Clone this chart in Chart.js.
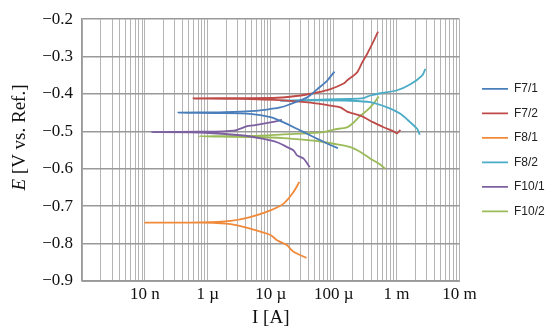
<!DOCTYPE html>
<html>
<head>
<meta charset="utf-8">
<script src="https://cdn.jsdelivr.net/npm/chart.js@4.4.1/dist/chart.umd.min.js"></script>
<style>
  html, body { margin: 0; padding: 0; background: #ffffff; }
  #wrap { width: 550px; height: 335px; }
</style>
</head>
<body>
<div id="wrap"><canvas id="c" width="550" height="335"></canvas></div>
<script>
// ---- data (current I in A, potential E in V vs. Ref.) ----
const seriesNames = ['F7/1', 'F7/2', 'F8/1', 'F8/2', 'F10/1', 'F10/2'];
const seriesColors = ['#4A7EBB', '#BE4B48', '#F08A3A', '#4BACC6', '#7D60A0', '#9BBB59'];

const f71I = [1.17e-4, 8.5e-5, 6.2e-5, 4.3e-5, 2.6e-5, 1.6e-5, 9.9e-6, 4.7e-6, 1.5e-6, 3.4e-7, 1.5e-6, 4.7e-6, 6.8e-6, 1.42e-5, 2.05e-5, 3.8e-5, 5.5e-5, 7.9e-5, 1.03e-4];
const f71E = [-0.545, -0.535, -0.524, -0.511, -0.493, -0.476, -0.462, -0.453, -0.451, -0.450, -0.449, -0.446, -0.444, -0.436, -0.427, -0.409, -0.387, -0.364, -0.340];

const f72I = [1.15e-3, 1.02e-3, 9.0e-4, 6.2e-4, 4.3e-4, 2.66e-4, 1.63e-4, 1.28e-4, 8.9e-5, 4.3e-5, 1.6e-5, 3e-6, 5.9e-7, 3e-6, 1.26e-5, 3.0e-5, 5.45e-5, 8.9e-5, 1.44e-4, 1.63e-4, 2.36e-4, 2.83e-4, 3.4e-4, 4.33e-4, 5.08e-4];
const f72E = [-0.496, -0.505, -0.500, -0.489, -0.476, -0.458, -0.447, -0.436, -0.431, -0.423, -0.417, -0.413, -0.412, -0.411, -0.410, -0.404, -0.396, -0.387, -0.372, -0.364, -0.342, -0.316, -0.293, -0.258, -0.233];

const f81I = [3.7e-5, 2.3e-5, 1.8e-5, 1.26e-5, 9.9e-6, 4.7e-6, 2.3e-6, 1.4e-6, 7.6e-7, 1e-7, 7.6e-7, 2.3e-6, 4.7e-6, 9.9e-6, 1.6e-5, 2.3e-5, 2.85e-5];
const f81E = [-0.838, -0.822, -0.804, -0.791, -0.777, -0.760, -0.748, -0.745, -0.744, -0.744, -0.743, -0.739, -0.729, -0.711, -0.693, -0.662, -0.635];

const f82I = [2.33e-3, 2.25e-3, 2.12e-3, 1.66e-3, 1.15e-3, 7.1e-4, 3.8e-4, 1.85e-4, 6.2e-5, 1.42e-5, 6.2e-5, 1.85e-4, 3.0e-4, 3.3e-4, 3.8e-4, 5.5e-4, 1.02e-3, 1.66e-3, 2.54e-3, 2.87e-3];
const f82E = [-0.509, -0.502, -0.493, -0.476, -0.453, -0.436, -0.422, -0.418, -0.417, -0.418, -0.415, -0.413, -0.411, -0.408, -0.404, -0.398, -0.390, -0.374, -0.351, -0.333];

const f101I = [4.16e-5, 3.33e-5, 2.62e-5, 2.31e-5, 1.82e-5, 1.26e-5, 7.7e-6, 3.7e-6, 7.6e-7, 1.3e-7, 7.6e-7, 2.6e-6, 4.2e-6, 5.35e-6, 9.9e-6, 1.51e-5];
const f101E = [-0.596, -0.573, -0.564, -0.551, -0.542, -0.529, -0.520, -0.511, -0.503, -0.502, -0.501, -0.498, -0.486, -0.484, -0.476, -0.469];

const f102I = [6.6e-4, 5.2e-4, 3.83e-4, 2.66e-4, 1.85e-4, 1.0e-4, 6.15e-5, 4.26e-5, 1.6e-5, 4.7e-6, 7.2e-7, 4.7e-6, 1.6e-5, 3.8e-5, 6.9e-5, 1.0e-4, 1.63e-4, 2.0e-4, 2.66e-4, 3.4e-4, 4.33e-4, 5.2e-4];
const f102E = [-0.600, -0.586, -0.573, -0.555, -0.542, -0.533, -0.527, -0.524, -0.518, -0.515, -0.513, -0.512, -0.508, -0.505, -0.502, -0.495, -0.489, -0.479, -0.458, -0.444, -0.425, -0.407];

// axis ticks
const xDecades = [1e-8, 1e-7, 1e-6, 1e-5, 1e-4, 1e-3, 1e-2];
const xDecadeLabels = ['', '10 n', '1 \u00b5', '10 \u00b5', '100 \u00b5', '1 m', '10 m'];
const yTicks = [-0.9, -0.8, -0.7, -0.6, -0.5, -0.4, -0.3, -0.2];
const yTickLabels = ['\u22120.9', '\u22120.8', '\u22120.7', '\u22120.6', '\u22120.5', '\u22120.4', '\u22120.3', '\u22120.2'];
const xTitle = 'I [A]';
const yTitleItalic = 'E';
const yTitleRest = ' [V vs. Ref.]';

// ---- build datasets ----
const seriesI = [f71I, f72I, f81I, f82I, f101I, f102I];
const seriesE = [f71E, f72E, f81E, f82E, f101E, f102E];
const datasets = seriesNames.map((name, k) => ({
  label: name,
  data: seriesI[k].map((v, i) => ({ x: v, y: seriesE[k][i] })),
  borderColor: seriesColors[k],
  backgroundColor: seriesColors[k],
  borderWidth: 1.8,
  pointRadius: 0,
  showLine: true,
  tension: 0.25,
  fill: false
}));

const serif = '"Liberation Serif", "Times New Roman", serif';

const yTitlePlugin = {
  id: 'yTitle',
  afterDraw(chart) {
    const ctx = chart.ctx;
    ctx.save();
    ctx.translate(20, 137.5);
    ctx.rotate(-Math.PI / 2);
    ctx.fillStyle = '#111';
    ctx.textBaseline = 'middle';
    ctx.textAlign = 'left';
    ctx.font = 'italic 19px ' + serif;
    const wE = ctx.measureText(yTitleItalic).width;
    ctx.font = '19px ' + serif;
    const wR = ctx.measureText(yTitleRest).width;
    const x0 = -(wE + wR) / 2;
    ctx.font = 'italic 19px ' + serif;
    ctx.fillText(yTitleItalic, x0, 0);
    ctx.font = '19px ' + serif;
    ctx.fillText(yTitleRest, x0 + wE, 0);
    ctx.restore();
  }
};

const legendShift = {
  id: 'legendShift',
  afterLayout(chart) {
    const lg = chart.legend;
    if (lg) { lg.left += 10; lg.right += 10; }
  }
};

new Chart(document.getElementById('c'), {
  type: 'scatter',
  data: { datasets },
  plugins: [yTitlePlugin, legendShift],
  options: {
    responsive: false,
    animation: false,
    devicePixelRatio: 1,
    layout: { padding: { top: 18, right: 10.5, bottom: 0, left: 0 } },
    plugins: {
      tooltip: { enabled: false },
      legend: {
        position: 'right',
        fullSize: false,
        maxWidth: 80,
        labels: {
          usePointStyle: true,
          pointStyle: 'line',
          pointStyleWidth: 26,
          padding: 12.5,
          color: '#222',
          font: { family: '"Liberation Sans", Arial, sans-serif', size: 12 }
        }
      }
    },
    scales: {
      x: {
        type: 'logarithmic',
        min: 1e-8,
        max: 1e-2,
        afterBuildTicks(scale) {
          const t = [];
          for (let d = 0; d < xDecades.length - 1; d++) {
            for (let k = 1; k <= 9; k++) t.push({ value: k * xDecades[d] });
          }
          t.push({ value: xDecades[xDecades.length - 1] });
          scale.ticks = t;
        },
        afterFit(scale) { scale.height = 54; },
        ticks: {
          autoSkip: false,
          maxRotation: 0,
          minRotation: 0,
          padding: 3,
          color: '#111',
          font: { family: serif, size: 17 },
          callback(value, index) {
            if (index % 9 !== 0) return '';
            return xDecadeLabels[index / 9];
          }
        },
        grid: { color: '#b4b4b4', lineWidth: 1, drawTicks: false },
        border: { display: true, color: '#a0a0a0', width: 1 },
        title: {
          display: true,
          text: xTitle,
          color: '#111',
          font: { family: serif, size: 19 },
          padding: { top: 0, bottom: 6 }
        }
      },
      y: {
        type: 'linear',
        min: -0.9,
        max: -0.2,
        afterBuildTicks(scale) { scale.ticks = yTicks.map(v => ({ value: v })); },
        afterFit(scale) { scale.width = 82; },
        ticks: {
          padding: 9,
          color: '#111',
          font: { family: serif, size: 17 },
          callback(value, index) { return yTickLabels[index]; }
        },
        grid: { color: '#999999', lineWidth: 1.5, drawTicks: false },
        border: { display: true, color: '#999999', width: 1.5 }
      }
    }
  }
});
</script>
</body>
</html>
